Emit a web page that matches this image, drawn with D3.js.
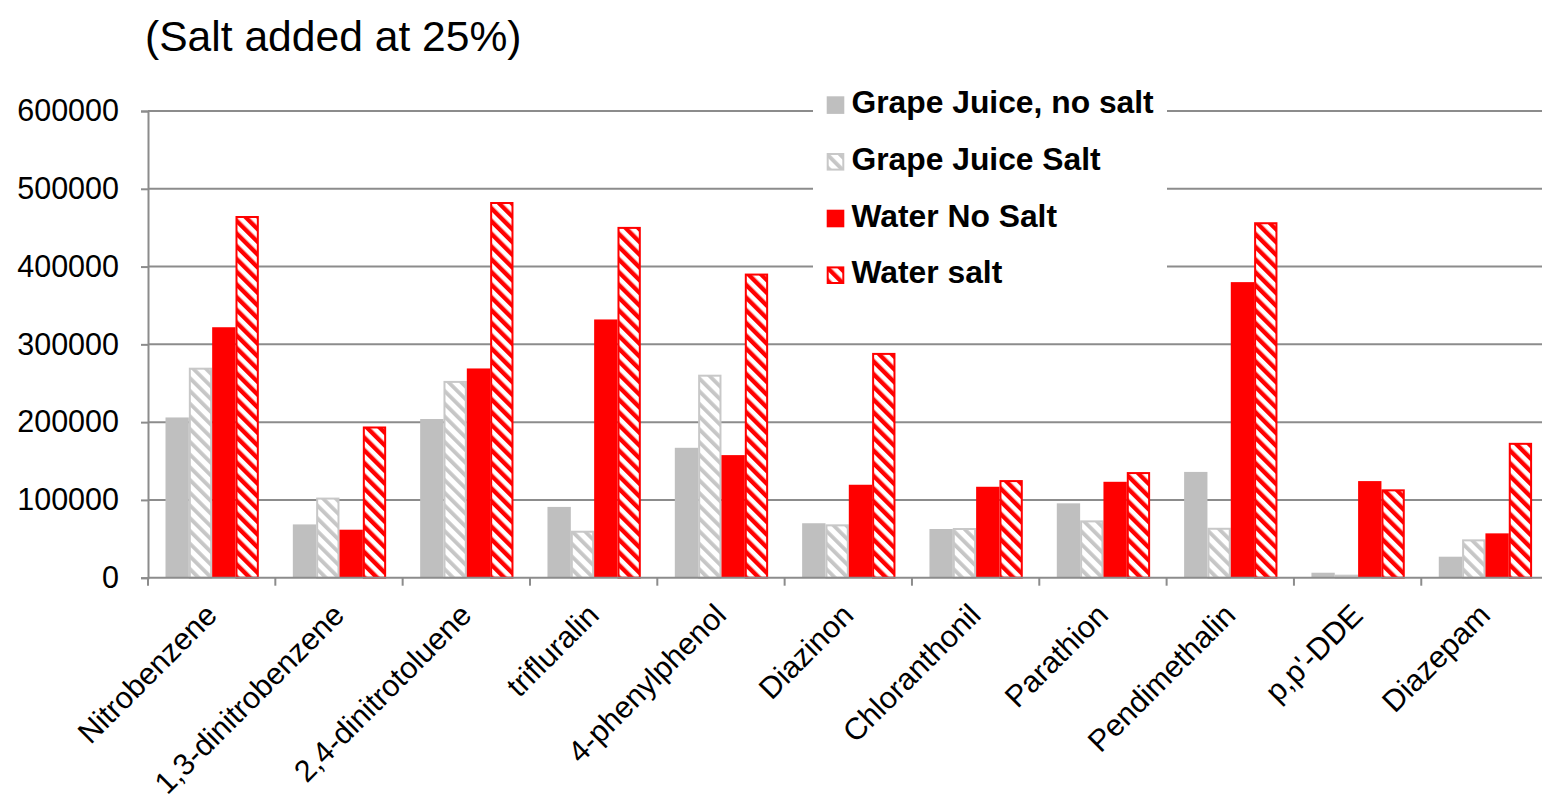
<!DOCTYPE html>
<html>
<head>
<meta charset="utf-8">
<script src="https://cdn.jsdelivr.net/npm/d3@7"></script>
<style>
  body { margin: 0; background: #fff; }
  svg { display: block; font-family: 'Liberation Sans', Arial, sans-serif; }
</style>
</head>
<body>
<div id="wrapper"></div>
<script>
const categories = ['Nitrobenzene', '1,3-dinitrobenzene', '2,4-dinitrotoluene', 'trifluralin',
    '4-phenylphenol', 'Diazinon', 'Chloranthonil', 'Parathion', 'Pendimethalin', "p,p'-DDE", 'Diazepam']
const seriesNames = ['Grape Juice, no salt', 'Grape Juice Salt', 'Water No Salt', 'Water salt']

const grapeNoSalt = [206000, 68500, 204000, 91000, 167000, 70000, 62600, 95600, 136000, 6400, 27000]
const grapeSalt   = [270000, 103000, 253000, 60400, 261000, 68600, 63900, 73700, 64200, 3900, 49300]
const waterNoSalt = [322000, 61700, 269000, 332000, 157600, 119500, 116900, 123300, 380000, 124200, 57000]
const waterSalt   = [465000, 194400, 483000, 451000, 391000, 289000, 125500, 135800, 457000, 113600, 173400]

const yTicks = [0, 100000, 200000, 300000, 400000, 500000, 600000]
const title = '(Salt added at 25%)'

const allSeries = [grapeNoSalt, grapeSalt, waterNoSalt, waterSalt]

const wrapper = d3.select('#wrapper')
    .append('svg')
        .attr('width', 1542)
        .attr('height', 801)

const defs = wrapper.append('defs')

function hatch(id, color, w) {
    const p = defs.append('pattern')
        .attr('id', id)
        .attr('patternUnits', 'userSpaceOnUse')
        .attr('width', 9)
        .attr('height', 9)
        .attr('patternTransform', 'rotate(-45)')
    p.append('rect').attr('width', 9).attr('height', 9).attr('fill', '#fff')
    p.append('rect').attr('width', w).attr('height', 9).attr('fill', color)
}
hatch('hatchGray', '#c6c6c6', 3.8)
hatch('hatchRed', '#ff0000', 4.4)

const fills = ['#bfbfbf', 'url(#hatchGray)', '#ff0000', 'url(#hatchRed)']
const strokes = ['none', '#c8c8c8', 'none', '#ff0000']

const xScale = d3.scaleBand()
    .domain(categories)
    .range([148, 1548.6])

const xSub = d3.scaleBand()
    .domain(seriesNames)
    .range([17.5, xScale.bandwidth() - 16.5])

const yScale = d3.scaleLinear()
    .domain([0, 600000])
    .range([577.7, 111])

const bounds = wrapper.append('g')

// gridlines
bounds.append('g')
    .selectAll('line')
    .data(yTicks.filter(d => d > 0))
    .join('line')
        .attr('x1', 148)
        .attr('x2', 1542)
        .attr('y1', d => yScale(d))
        .attr('y2', d => yScale(d))
        .attr('stroke', '#8c8c8c')
        .attr('stroke-width', 2)

// y axis
const yAxis = bounds.append('g')
    .attr('transform', 'translate(148,0)')
    .call(d3.axisLeft(yScale).tickValues(yTicks).tickSize(7).tickPadding(22).tickFormat(d3.format('d')))
yAxis.select('.domain').attr('stroke', '#8c8c8c').attr('stroke-width', 2)
yAxis.selectAll('.tick line').attr('stroke', '#8c8c8c').attr('stroke-width', 2)
yAxis.selectAll('.tick text')
    .attr('font-size', 30.5)
    .attr('font-family', "'Liberation Sans', Arial, sans-serif")
    .attr('fill', '#000')

// bars
allSeries.forEach((values, s) => {
    const inset = strokes[s] === 'none' ? 0 : 1
    bounds.append('g')
        .selectAll('rect')
        .data(values)
        .join('rect')
            .attr('x', (d, i) => xScale(categories[i]) + xSub(seriesNames[s]) + inset)
            .attr('width', xSub.bandwidth() - 2 * inset)
            .attr('y', d => yScale(d) + inset)
            .attr('height', d => Math.max(0, yScale(0) - yScale(d) - inset))
            .attr('fill', fills[s])
            .attr('stroke', strokes[s])
            .attr('stroke-width', 2)
})

// x axis
const xAxisG = bounds.append('g')
xAxisG.append('line')
    .attr('x1', 148)
    .attr('x2', 1542)
    .attr('y1', yScale(0))
    .attr('y2', yScale(0))
    .attr('stroke', '#8c8c8c')
    .attr('stroke-width', 2)
xAxisG.selectAll('.xtick')
    .data(categories.concat(['end']))
    .join('line')
        .attr('class', 'xtick')
        .attr('x1', (d, i) => 148 + i * xScale.step())
        .attr('x2', (d, i) => 148 + i * xScale.step())
        .attr('y1', yScale(0))
        .attr('y2', yScale(0) + 8)
        .attr('stroke', '#8c8c8c')
        .attr('stroke-width', 2)
xAxisG.selectAll('.xlabel')
    .data(categories)
    .join('text')
        .attr('class', 'xlabel')
        .attr('transform', d => `translate(${xScale(d) + xScale.bandwidth() / 2 + 7},617) rotate(-45)`)
        .attr('text-anchor', 'end')
        .attr('font-size', 30.5)
        .attr('fill', '#000')
        .text(d => d)

// legend
const legend = wrapper.append('g')
legend.append('rect')
    .attr('x', 813)
    .attr('y', 78)
    .attr('width', 354)
    .attr('height', 222)
    .attr('fill', '#fff')
const rows = legend.selectAll('.row')
    .data(seriesNames)
    .join('g')
        .attr('class', 'row')
        .attr('transform', (d, i) => `translate(0,${113.3 + i * 56.7})`)
rows.append('rect')
    .attr('x', (d, i) => strokes[i] === 'none' ? 826.7 : 827.7)
    .attr('y', (d, i) => strokes[i] === 'none' ? -17 : -16)
    .attr('width', (d, i) => strokes[i] === 'none' ? 17.6 : 15.6)
    .attr('height', (d, i) => strokes[i] === 'none' ? 17.6 : 15.6)
    .attr('fill', (d, i) => fills[i])
    .attr('stroke', (d, i) => strokes[i])
    .attr('stroke-width', 2)
rows.append('text')
    .attr('x', 851.5)
    .attr('y', 0)
    .attr('font-size', 31.8)
    .attr('font-weight', 'bold')
    .attr('fill', '#000')
    .text(d => d)

// title
wrapper.append('text')
    .attr('x', 145)
    .attr('y', 51)
    .attr('font-size', 42.6)
    .attr('fill', '#000')
    .text(title)
</script>
</body>
</html>
